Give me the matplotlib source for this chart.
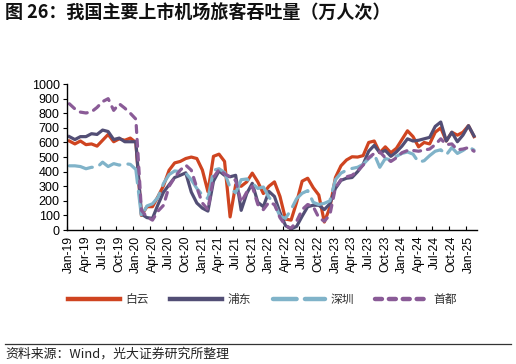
import numpy as np
import matplotlib
matplotlib.use("Agg")
import matplotlib.pyplot as plt
from matplotlib.lines import Line2D

plt.rcParams['font.family'] = ['Liberation Sans', 'Noto Sans CJK SC', 'DejaVu Sans']
plt.rcParams['lines.scale_dashes'] = False

# monthly, Jan-19 .. Feb-25
months = []
for yr in range(19, 26):
    for m in ['Jan', 'Feb', 'Mar', 'Apr', 'May', 'Jun', 'Jul', 'Aug', 'Sep', 'Oct', 'Nov', 'Dec']:
        months.append(f"{m}-{yr}")
months = months[:74]

baiyun = [610, 590, 610, 585, 590, 575, 615, 655, 605, 625, 615, 630,
          600, 100, 160, 160, 230, 305, 410, 460, 470, 490, 500, 490,
          411, 263, 505, 520, 470, 90, 310, 300, 330, 390, 330, 250,
          300, 330, 230, 75, 68, 190, 335, 355, 290, 240, 55, 155,
          360, 440, 480, 502, 500, 510, 600, 610, 530, 570, 530, 560,
          620, 680, 640, 570, 600, 590, 670, 700, 610, 670, 650, 670,
          715, 640]
pudong = [640, 620, 640, 640, 660, 655, 685, 675, 620, 630, 605, 605,
          605, 110, 85, 80, 175, 260, 310, 360, 375, 392, 260, 185,
          150, 130, 335, 405, 375, 365, 375, 135, 250, 320, 190, 160,
          265, 230, 120, 30, 8, 25, 95, 160, 170, 170, 140, 180,
          285, 340, 355, 360, 400, 450, 540, 580, 530, 545, 505, 535,
          575, 625, 610, 615, 625, 635, 710, 740, 610, 670, 605, 650,
          715, 645]
shenzhen = [440, 440, 435, 420, 430, 430, 465, 435, 455, 445, 455, 450,
            415, 95, 165, 180, 225, 320, 380, 405, 400, 390, 345, 285,
            240, 215, 410, 420, 395, 290, 255, 345, 350, 320, 285, 295,
            225, 180, 95, 80, 140, 215, 252, 270, 190, 175, 183, 200,
            345, 390, 410, 422, 430, 450, 490, 520, 430, 490, 480, 505,
            525, 535, 520, 465, 475, 510, 540, 550, 515, 565, 525, 545,
            570, 548]
shoudu = [865, 830, 808, 802, 810, 840, 880, 900, 820, 865, 835, 800,
          760, 135, 90, 68, 130, 170, 300, 360, 410, 445, 410, 290,
          185, 140, 360, 415, 385, 365, 340, 190, 260, 300, 175, 140,
          190, 175, 85, 30, 12, 60, 140, 175, 160, 85, 60, 105,
          290, 345, 365, 375, 405, 445, 495, 525, 537, 495, 470, 495,
          530, 545, 545, 540, 548, 555, 585, 625, 585, 590, 550, 555,
          565, 540]

names = ['白云', '浦东', '深圳', '首都']
colors = ['#CF4420', '#524E75', '#80B3C9', '#8A5B97']

fig = plt.figure(figsize=(5.16, 3.64), dpi=100)
ax = fig.add_axes([0.129, 0.368, 0.795, 0.401])

x = np.arange(len(months))
ax.plot(x, baiyun, color=colors[0], lw=2.3, label=names[0])
ax.plot(x, pudong, color=colors[1], lw=2.3, label=names[1])
ax.plot(x, shenzhen, color=colors[2], lw=2.3, dashes=(17, 6), dash_capstyle='round', label=names[2])
ax.plot(x, shoudu, color=colors[3], lw=2.3, dashes=(5, 5), dash_capstyle='round', label=names[3])

ax.set_xlim(-0.5, len(months) - 0.5)
ax.set_ylim(0, 1000)
ax.set_yticks(np.arange(0, 1001, 100))
ax.tick_params(axis='y', labelsize=9, length=3, width=0.8, direction='out', pad=2)

ax.set_xticks(np.arange(-0.5, len(months), 3))
ax.set_xticklabels([])
ax.tick_params(axis='x', which='major', length=3, width=0.8, direction='in')
ax.set_xticks(np.arange(0, len(months), 3), minor=True)
ax.set_xticklabels(months[::3], minor=True, rotation=90, fontsize=8.7)
ax.tick_params(axis='x', which='minor', length=0, pad=4)

for s in ['top', 'right']:
    ax.spines[s].set_visible(False)
for s in ['left', 'bottom']:
    ax.spines[s].set_linewidth(1.0)
    ax.spines[s].set_color('black')

leg = fig.legend(loc='center', bbox_to_anchor=(0.508, 0.176), ncol=4, frameon=False,
                 fontsize=8.5, handlelength=4.4, handletextpad=0.5, columnspacing=1.8)
for h in leg.get_lines():
    h.set_linewidth(3.2)
for t in leg.get_texts():
    t.set_color('#333333')

fig.text(0.01, 0.962, '图 26：我国主要上市机场旅客吞吐量（万人次）', fontsize=13,
         fontweight='bold', family=['Noto Sans CJK SC'], va='center', color='#111111')
fig.add_artist(Line2D([0.01, 0.99], [0.055, 0.055], transform=fig.transFigure,
                      color='#333333', lw=0.9))
fig.text(0.01, 0.028, '资料来源：Wind，光大证券研究所整理', fontsize=9.3,
         family=['Noto Sans CJK SC'], va='center', color='#222222')

fig.savefig('out.png', dpi=100)
